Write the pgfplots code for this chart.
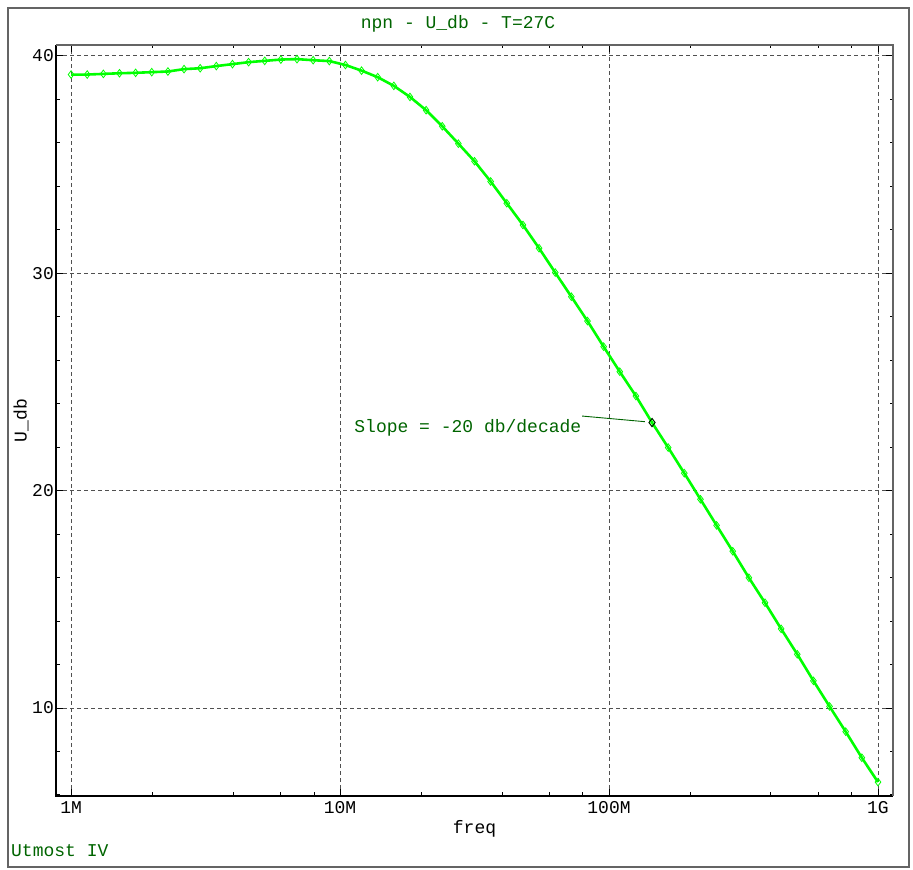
\documentclass[border=0pt]{standalone}
\usepackage{fontspec}
\setmainfont{Liberation Mono}
\usepackage{pgfplots}
\pgfplotsset{compat=1.18}
\definecolor{spicegreen}{RGB}{0,255,0}
\definecolor{textgreen}{RGB}{0,100,0}
\definecolor{framegray}{RGB}{100,100,100}
\definecolor{gridgray}{RGB}{80,80,80}

\begin{document}
\fontsize{18}{21}\selectfont
\begin{tikzpicture}
\useasboundingbox (0,0) rectangle (913pt,870pt);
\draw[framegray, line width=1.3pt] (8pt,3pt) rectangle (909pt,862pt);
\node[textgreen, anchor=west, inner sep=0] at (11pt,19pt) {Utmost IV};
\begin{axis}[
    at={(56pt,74pt)}, anchor=south west,
    scale only axis,
    width=837pt, height=751pt,
    xmode=log,
    xmin=8.79e5, xmax=1.1376e9,
    ymin=5.95, ymax=40.5,
    xtick={1e6,1e7,1e8,1e9},
    xticklabels={1M,10M,100M,1G},
    minor xtick={2e6,4e6,6e6,8e6,2e7,4e7,6e7,8e7,2e8,4e8,6e8,8e8},
    ytick={10,20,30,40},
    yticklabels={10,20,30,40},
    minor ytick={6,8,12,14,16,18,22,24,26,28,32,34,36,38},
    tick align=inside,
    major tick length=7pt,
    minor tick length=3.5pt,
    tick style={black, line width=0.9pt},
    xmajorgrids, ymajorgrids,
    major grid style={gridgray, line width=0.8pt, dash pattern=on 4pt off 3pt},
    axis line style={draw=none},
    xticklabel style={anchor=north, inner sep=0, yshift=-5.5pt},
    yticklabel style={anchor=east, inner sep=0, xshift=-2pt},
    xlabel={freq},
    ylabel={U\_db},
    xlabel style={at={(axis description cs:0.5,-0.0439)}, anchor=center},
    ylabel style={at={(axis description cs:-0.0418,0.5)}, anchor=center, rotate=0},
    title={npn - U\_db - T=27C},
    title style={textgreen, at={(axis description cs:0.4803,1.0195)}, anchor=center},
    clip=false,
]
\addplot[spicegreen, line width=2.6pt, mark=diamond, mark size=3.8pt,
         mark options={spicegreen, line width=0.8pt, solid}] coordinates {
(1e6,39.14) (1.14815e6,39.14) (1.31826e6,39.17) (1.51356e6,39.20)
(1.73780e6,39.22) (1.99526e6,39.25) (2.29087e6,39.28) (2.63027e6,39.39)
(3.01995e6,39.43) (3.46737e6,39.53) (3.98107e6,39.62) (4.57088e6,39.71)
(5.24807e6,39.77) (6.02560e6,39.83) (6.91831e6,39.85) (7.94328e6,39.80)
(9.12011e6,39.76) (1.04713e7,39.58) (1.20226e7,39.32) (1.38038e7,39.02)
(1.58489e7,38.62) (1.81970e7,38.11) (2.08930e7,37.50) (2.39883e7,36.76)
(2.75423e7,35.96) (3.16228e7,35.15) (3.63078e7,34.22) (4.16869e7,33.22)
(4.78630e7,32.22) (5.49541e7,31.15) (6.30957e7,30.03) (7.24436e7,28.92)
(8.31764e7,27.80) (9.54993e7,26.62) (1.09648e8,25.47) (1.25893e8,24.35)
(1.44544e8,23.13) (1.65959e8,21.98) (1.90546e8,20.80) (2.18776e8,19.60)
(2.51189e8,18.40) (2.88403e8,17.21) (3.31131e8,15.99) (3.80189e8,14.84)
(4.36516e8,13.64) (5.01187e8,12.47) (5.75440e8,11.25) (6.60693e8,10.07)
(7.58578e8,8.91) (8.70964e8,7.71) (1e9,6.59)
};
\addplot[only marks, mark=diamond, mark size=4.2pt, mark options={black, line width=0.8pt}]
    coordinates {(1.44544e8,23.13)};
\draw[textgreen, line width=0.9pt] (axis cs:7.94e7,23.43) -- (axis cs:1.36e8,23.17);
\node[textgreen, anchor=base east, inner sep=0] at (axis cs:7.9e7,22.67) {Slope = -20 db/decade};
\draw[black, line width=1.6pt] (rel axis cs:0,1) -- (rel axis cs:0,0) -- (rel axis cs:1,0);
\draw[framegray, line width=1.1pt] (rel axis cs:0,1) -- (rel axis cs:1,1) -- (rel axis cs:1,0);
\end{axis}
\end{tikzpicture}
\end{document}
